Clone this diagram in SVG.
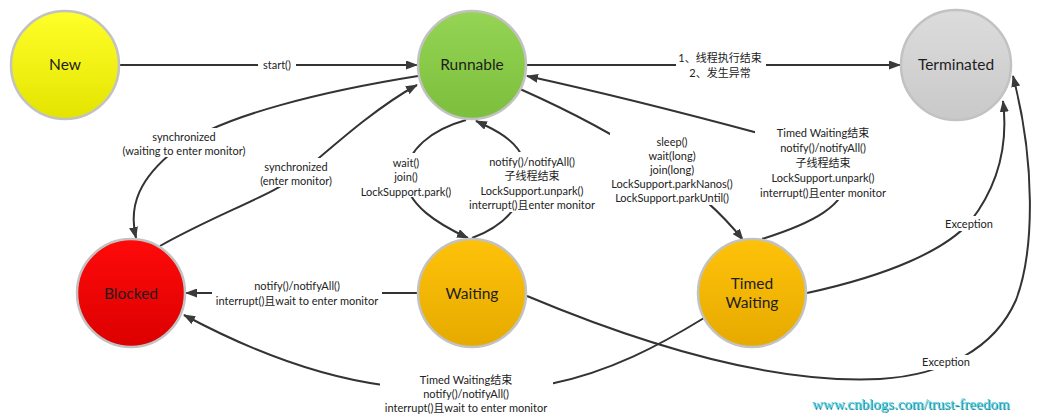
<svg xmlns="http://www.w3.org/2000/svg" width="1051" height="419" viewBox="0 0 1051 419">
<defs>
<linearGradient id="gNew" x1="0" y1="0" x2="0" y2="1"><stop offset="0" stop-color="#ffff2a"/><stop offset="1" stop-color="#e4e400"/></linearGradient>
<linearGradient id="gRun" x1="0" y1="0" x2="0" y2="1"><stop offset="0" stop-color="#95d455"/><stop offset="1" stop-color="#7cbf3c"/></linearGradient>
<linearGradient id="gTerm" x1="0" y1="0" x2="0" y2="1"><stop offset="0" stop-color="#dcdcdc"/><stop offset="1" stop-color="#c9c9c9"/></linearGradient>
<linearGradient id="gBlk" x1="0" y1="0" x2="0" y2="1"><stop offset="0" stop-color="#ff0a0a"/><stop offset="1" stop-color="#dc0000"/></linearGradient>
<linearGradient id="gWait" x1="0" y1="0" x2="0" y2="1"><stop offset="0" stop-color="#ffc20a"/><stop offset="1" stop-color="#e6aa00"/></linearGradient>
<marker id="arr" viewBox="0 0 12 9" refX="11" refY="4.5" markerWidth="12" markerHeight="9" markerUnits="userSpaceOnUse" orient="auto">
<path d="M0,0 L12,4.5 L0,9 z" fill="#3a3a3a"/>
</marker>
</defs>
<style>
.node circle{stroke:#c2c2c2;stroke-width:2.5}
.nt{font-family:Lato,"Open Sans","Noto Sans CJK SC",sans-serif;font-size:15.5px;fill:#1e1e1e;text-anchor:middle}
.edge{fill:none;stroke:#333;stroke-width:2}
.arrow{marker-end:url(#arr)}
.lb{font-family:Lato,"Open Sans","Noto Sans CJK SC",sans-serif;font-size:11px;fill:#222;text-anchor:middle}
.bg{fill:#fff}
.wm{font-family:"Liberation Serif",serif;font-size:15px;fill:#3fd3e6}
.wms{font-family:"Liberation Serif",serif;font-size:15px;fill:#2a7f90}
</style>
<rect width="1051" height="419" fill="#fff"/>

<g id="connectors">
<path class="edge arrow" d="M120,65 L417,65"/>
<path class="edge arrow" d="M527,65 L900,65"/>
<path class="edge arrow" d="M418,76 C330,90 220,115 175,150 C140,178 128,205 136,238"/>
<path class="edge arrow" d="M160,246 C220,212 275,195 305,170 C340,140 380,105 417,85"/>
<path class="edge arrow" d="M466,120 C430,130 408,150 405,175 C405,205 440,225 468,238"/>
<path class="edge arrow" d="M472,238 C515,222 532,190 524,160 C516,140 496,130 476,121"/>
<path class="edge arrow" d="M520,89 Q680,160 743,240"/>
<path class="edge arrow" d="M762,239 C810,224 850,205 846,175 C842,150 800,140 758,133 C680,112 600,92 527,76"/>
<path class="edge arrow" d="M807,293 C890,275 945,250 970,222 C995,190 1009,150 1003,101"/>
<path class="edge arrow" d="M527,296 C620,335 760,385 880,379 C945,375 995,348 1016,300 C1035,250 1035,160 1013,76"/>
<path class="edge arrow" d="M418,293 L186,293"/>
<path class="edge arrow" d="M704,318 C660,345 610,372 550,384 L383,385 C310,375 240,345 184,315"/>
</g>

<g id="edge-labels">
<rect class="bg" x="258" y="58" width="38" height="14"/>
<text class="lb" x="277" y="69">start()</text>
<rect class="bg" x="676" y="48" width="90" height="32"/>
<text class="lb" x="720" y="62">1、线程执行结束</text>
<text class="lb" x="720" y="77">2、发生异常</text>
<rect class="bg" x="120" y="128" width="130" height="29"/>
<text class="lb" x="184" y="141">synchronized</text>
<text class="lb" x="184" y="155">(waiting to enter monitor)</text>
<rect class="bg" x="258" y="158" width="78" height="29"/>
<text class="lb" x="296" y="171">synchronized</text>
<text class="lb" x="296" y="185">(enter monitor)</text>
<rect class="bg" x="358" y="153" width="98" height="44"/>
<text class="lb" x="406" y="167">wait()</text>
<text class="lb" x="406" y="181">join()</text>
<text class="lb" x="406" y="196">LockSupport.park()</text>
<rect class="bg" x="465" y="152" width="135" height="60"/>
<text class="lb" x="532" y="166">notify()/notifyAll()</text>
<text class="lb" x="532" y="180">子线程结束</text>
<text class="lb" x="532" y="195">LockSupport.unpark()</text>
<text class="lb" x="532" y="209">interrupt()且enter monitor</text>
<rect class="bg" x="610" y="133" width="125" height="72"/>
<text class="lb" x="672" y="146">sleep()</text>
<text class="lb" x="672" y="160">wait(long)</text>
<text class="lb" x="672" y="174">join(long)</text>
<text class="lb" x="672" y="188">LockSupport.parkNanos()</text>
<text class="lb" x="672" y="202">LockSupport.parkUntil()</text>
<rect class="bg" x="755" y="124" width="138" height="76"/>
<text class="lb" x="823" y="137">Timed Waiting结束</text>
<text class="lb" x="823" y="152">notify()/notifyAll()</text>
<text class="lb" x="823" y="167">子线程结束</text>
<text class="lb" x="823" y="182">LockSupport.unpark()</text>
<text class="lb" x="823" y="197">interrupt()且enter monitor</text>
<rect class="bg" x="212" y="277" width="170" height="30"/>
<text class="lb" x="297" y="290">notify()/notifyAll()</text>
<text class="lb" x="297" y="305">interrupt()且wait to enter monitor</text>
<rect class="bg" x="380" y="370" width="173" height="46"/>
<text class="lb" x="466" y="384">Timed Waiting结束</text>
<text class="lb" x="466" y="398">notify()/notifyAll()</text>
<text class="lb" x="466" y="412">interrupt()且wait to enter monitor</text>
<rect class="bg" x="945" y="216" width="50" height="15"/>
<text class="lb" x="969" y="228">Exception</text>
<rect class="bg" x="921" y="355" width="51" height="15"/>
<text class="lb" x="946" y="366">Exception</text>
</g>

<g id="node-new" class="node"><circle cx="65" cy="65" r="54" fill="url(#gNew)"/><text class="nt" x="65" y="70">New</text></g>
<g id="node-runnable" class="node"><circle cx="472" cy="65" r="54" fill="url(#gRun)"/><text class="nt" x="472" y="70">Runnable</text></g>
<g id="node-terminated" class="node"><circle cx="956" cy="65" r="55" fill="url(#gTerm)"/><text class="nt" x="956" y="70">Terminated</text></g>
<g id="node-blocked" class="node"><circle cx="131" cy="293" r="54" fill="url(#gBlk)"/><text class="nt" x="131" y="299" fill="#3a0000">Blocked</text></g>
<g id="node-waiting" class="node"><circle cx="472" cy="293" r="54" fill="url(#gWait)"/><text class="nt" x="472" y="299">Waiting</text></g>
<g id="node-timed-waiting" class="node"><circle cx="752" cy="293" r="54" fill="url(#gWait)"/><text class="nt" x="752" y="289">Timed</text><text class="nt" x="752" y="308">Waiting</text></g>

<g id="watermark">
<text class="wms" x="813" y="410">www.cnblogs.com/trust-freedom</text>
<text class="wm" x="812" y="409">www.cnblogs.com/trust-freedom</text>
</g>
</svg>
